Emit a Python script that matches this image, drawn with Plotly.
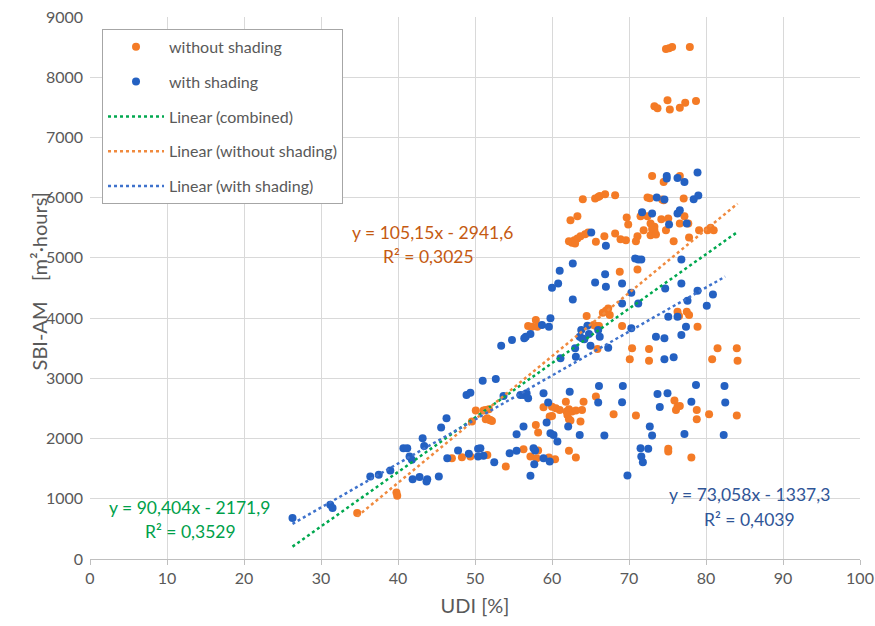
import plotly.graph_objects as go

# UDI [%] vs SBI-AM [m²·hours] samples, without shading
udi_without = [
    74.8, 75.2, 75.6, 77.9,
    73.3, 73.7, 75.0, 75.3, 76.6, 77.3, 78.7,
    73.0, 74.5, 76.6,
    64.0, 65.6, 66.0, 66.2, 66.9, 68.2, 72.4, 72.7, 74.3, 74.5, 77.1,
    69.7, 69.9, 71.5, 72.4, 72.8, 73.3, 74.2, 75.1, 76.6, 77.2, 77.7,
    62.4, 63.3,
    62.2, 62.9, 63.3, 63.7, 64.3, 64.7, 62.6, 63.0,
    65.7, 66.8, 68.2, 68.9, 69.6, 70.9, 71.1, 71.9, 72.8, 73.0, 73.3, 73.5, 74.8,
    75.8, 77.8, 79.1, 80.2, 80.6, 81.0,
    71.1, 68.8,
    64.5, 66.6, 67.0, 67.3, 67.5, 69.1, 65.4, 65.7, 66.1, 76.3, 76.5, 77.5, 77.8, 78.9,
    56.9, 57.4, 58.1, 57.9,
    65.9, 70.4, 70.1, 72.6, 72.6, 81.5, 80.8, 84.0, 84.1,
    58.9, 51.4, 51.6, 52.0, 60.0, 60.5, 61.0, 59.7, 60.0, 61.8, 61.9, 62.2, 62.6,
    63.1, 63.9, 64.1, 62.0, 62.2, 62.4, 63.7, 65.7, 68.0, 70.9, 75.9, 76.3, 76.6,
    76.1, 78.8, 78.8, 80.4, 84.0,
    57.9, 58.2,
    56.3, 58.2, 57.2, 58.0, 59.6, 60.4, 54.0, 62.2, 63.1, 75.1, 75.1, 78.1,
    51.6, 47.0, 48.3, 49.4,
    50.1, 51.1, 51.8, 51.4, 51.9, 52.2, 49.6,
    34.7, 39.8, 39.9,
]
sbi_without = [
    8470, 8480, 8500, 8500,
    7516, 7483, 7616, 7466, 7494, 7577, 7604,
    6360, 6262, 6360,
    5974, 5985, 6012, 6028, 6057, 6040, 6002, 5990, 5970, 5957, 5985,
    5670, 5554, 5692, 5692, 5571, 5515, 5642, 5654, 5571, 5692, 5571,
    5626, 5692,
    5277, 5294, 5322, 5360, 5393, 5422, 5250, 5240,
    5266, 5360, 5405, 5310, 5294, 5277, 5360, 5460, 5377, 5480, 5460, 5389, 5460,
    5277, 5339, 5460, 5460, 5500, 5460,
    4808, 4768,
    4034, 4089, 4122, 4161, 4051, 3868, 3885, 3868, 3868, 4105, 4034, 4105, 4050, 3857,
    3870, 3857, 3857, 3968,
    3487, 3498, 3316, 3487, 3293, 3498, 3316, 3498, 3293,
    2520, 2476, 2338, 2310, 2530, 2504, 2476, 2365, 2376, 2613, 2448, 2487, 2448,
    2464, 2476, 2613, 2393, 2321, 2298, 2282, 2697, 2404, 2381, 2630, 2530, 2542,
    2476, 2476, 2321, 2404, 2381,
    2227, 2099,
    1824, 1801, 1701, 1675, 1685, 1658, 1536, 1796, 1685, 1829, 1784, 1685,
    1729, 1675, 1691, 1701,
    2464, 2464, 2487, 2321, 2310, 2293, 2282,
    763, 1104, 1050,
]

# UDI [%] vs SBI-AM [m²·hours] samples, with shading
udi_with = [
    74.9, 74.9, 76.3, 77.2, 78.9,
    73.6, 74.6, 78.4, 79.0,
    71.7, 73.0, 76.3, 76.6, 75.2, 77.5,
    65.1, 67.0,
    70.8, 71.2, 71.6, 62.7, 61.0, 66.9, 60.8, 60.0, 65.6, 67.0, 69.1, 76.8, 76.8,
    62.7, 70.3, 69.1, 71.2, 74.7, 77.6, 78.9, 80.9, 80.1,
    75.1, 76.3, 77.4, 64.6, 63.8, 70.3, 66.0,
    64.8, 63.6, 73.5, 76.8,
    58.7, 59.6, 59.8, 56.6, 57.2, 54.8, 56.4,
    53.4, 63.0, 63.1, 63.9, 64.2, 65.0, 66.2, 67.3, 61.1, 74.6, 74.6, 75.8,
    51.0, 52.7, 53.7, 55.9, 56.3, 56.7, 56.9, 58.9, 59.5, 62.3, 66.1, 69.2, 69.1,
    66.0, 73.7, 75.0, 74.0, 78.1, 78.7, 82.4, 82.5,
    56.3, 55.4, 59.3, 59.8, 60.2, 60.7, 62.1, 63.6, 66.8, 72.7, 73.0, 77.2, 82.3,
    71.5, 72.5, 71.6, 71.8, 69.8,
    50.7, 51.1, 52.5, 54.5, 55.4, 57.6, 57.8, 58.9, 59.7, 57.7, 57.2,
    26.3, 31.2, 31.5, 36.4, 37.5, 39.0, 40.7, 41.2, 43.2, 41.5, 41.8, 43.4, 41.9,
    42.8, 43.8, 43.7, 45.3, 45.6, 46.3, 46.4, 47.8, 49.2, 50.4, 50.4, 48.9, 49.4,
]
sbi_with = [
    6360, 6320, 6327, 6262, 6417,
    6002, 5970, 5974, 6035,
    5758, 5736, 5736, 5791, 5554, 5571,
    5422, 5200,
    4990, 4974, 4974, 4907, 4785, 4730, 4576, 4503, 4593, 4520, 4576, 4974, 4576,
    4311, 4420, 4244, 4244, 4493, 4288, 4454, 4394, 4205,
    4022, 4022, 3857, 3873, 3802, 3830, 3802,
    3735, 3690, 3690, 3719,
    3885, 3857, 3996, 3690, 3735, 3636, 3664,
    3541, 3498, 3359, 3664, 3650, 3541, 3690, 3508, 3333, 3664, 3316, 3349,
    2961, 2989, 2707, 2724, 2724, 2752, 2669, 2752, 2597, 2779, 2873, 2873, 2603,
    2597, 2741, 2752, 2525, 2613, 2890, 2873, 2597,
    2199, 2073, 2265, 2089, 2061, 1950, 2199, 2061, 2049, 2199, 2049, 2077, 2061,
    1840, 1829, 1701, 1608, 1386,
    1840, 1713, 1608, 1757, 1796, 1840, 1801, 1675, 1618, 1575, 1381,
    680, 900, 846, 1370, 1398, 1469, 1840, 1840, 2006, 1701, 1646, 1878, 1326,
    1360, 1326, 1287, 1370, 2182, 2338, 1675, 1801, 1746, 1829, 1701, 2724, 2762,
]

# Linear fits: (slope, intercept, equation text, R² text)
fit_combined = (90.404, -2171.9, "y = 90,404x - 2171,9", "R² = 0,3529")
fit_without = (105.15, -2941.6, "y = 105,15x - 2941,6", "R² = 0,3025")
fit_with = (73.058, -1337.3, "y = 73,058x - 1337,3", "R² = 0,4039")

ORANGE = "#F47B26"
BLUE = "#2461C2"
GREEN_LINE = "#00A84F"
ORANGE_LINE = "#F08A3E"
BLUE_LINE = "#3E72CC"
GRAY_TEXT = "#595959"
FONT = "Lato, 'Open Sans', sans-serif"


def fit_line(fit, xs):
    slope, intercept = fit[0], fit[1]
    x0, x1 = min(xs), max(xs)
    return [x0, x1], [slope * x0 + intercept, slope * x1 + intercept]


fig = go.Figure()

fig.add_trace(go.Scatter(
    x=udi_without, y=sbi_without, mode="markers", name="without shading",
    legendgroup="a",
    marker=dict(color=ORANGE, size=8, line=dict(width=0)),
))
fig.add_trace(go.Scatter(
    x=udi_with, y=sbi_with, mode="markers", name="with shading",
    legendgroup="b",
    marker=dict(color=BLUE, size=8, line=dict(width=0)),
))

lx, ly = fit_line(fit_combined, udi_without + udi_with)
fig.add_trace(go.Scatter(
    x=lx, y=ly, mode="lines", name="Linear (combined)", legendgroup="c",
    line=dict(color=GREEN_LINE, width=2.5, dash="dot"),
))
lx, ly = fit_line(fit_without, udi_without)
fig.add_trace(go.Scatter(
    x=lx, y=ly, mode="lines", name="Linear (without shading)", legendgroup="d",
    line=dict(color=ORANGE_LINE, width=2.5, dash="dot"),
))
lx, ly = fit_line(fit_with, udi_with)
fig.add_trace(go.Scatter(
    x=lx, y=ly, mode="lines", name="Linear (with shading)", legendgroup="e",
    line=dict(color=BLUE_LINE, width=2.5, dash="dot"),
))

# Equation labels for the fitted lines
labels = [
    (fit_without, 44.5, 5427, 43.9, 5029, "#C55A11"),
    (fit_combined, 12.9, 851, 13.0, 453, "#00A04A"),
    (fit_with, 85.6, 1066, 85.7, 652, "#2F5597"),
]
for fit, ex, ey, rx, ry, col in labels:
    fig.add_annotation(x=ex, y=ey, xref="x", yref="y", text=fit[2],
                       showarrow=False, font=dict(size=17.5, color=col, family=FONT))
    fig.add_annotation(x=rx, y=ry, xref="x", yref="y", text=fit[3],
                       showarrow=False, font=dict(size=17.5, color=col, family=FONT))

# Vertical axis title
fig.add_annotation(
    x=-0.065, y=0.512, xref="paper", yref="paper", textangle=-90,
    xanchor="center", yanchor="middle",
    text="SBI-AM\u00a0\u00a0\u00a0\u00a0[m²·hours]", showarrow=False,
    font=dict(size=20, color=GRAY_TEXT, family=FONT),
)

fig.update_layout(
    width=875, height=626,
    margin=dict(l=90, r=15, t=17, b=67),
    paper_bgcolor="white", plot_bgcolor="white",
    font=dict(family=FONT, color=GRAY_TEXT, size=16),
    showlegend=True,
    legend=dict(
        x=0.0156, y=0.978, xanchor="left", yanchor="top",
        bgcolor="white", bordercolor="#A6A6A6", borderwidth=1,
        font=dict(size=16, color=GRAY_TEXT, family=FONT),
        traceorder="grouped", tracegroupgap=11, itemwidth=56,
    ),
    xaxis=dict(
        range=[0, 100], dtick=10, tick0=0, automargin=False,
        showgrid=True, gridcolor="#D9D9D9", gridwidth=1.3,
        showline=True, linecolor="#BFBFBF", linewidth=1.3,
        ticks="outside", ticklen=5, tickcolor="#BFBFBF",
        zeroline=False,
        tickfont=dict(size=16, color=GRAY_TEXT),
        title=dict(text="UDI [%]", font=dict(size=20, color=GRAY_TEXT), standoff=12),
    ),
    yaxis=dict(
        range=[0, 9000], dtick=1000, tick0=0, automargin=False,
        showgrid=True, gridcolor="#D9D9D9", gridwidth=1.3,
        showline=False, zeroline=False,
        tickfont=dict(size=16, color=GRAY_TEXT),
        ticks="", ticklabelstandoff=6,
    ),
)

fig.write_html("out.html")
